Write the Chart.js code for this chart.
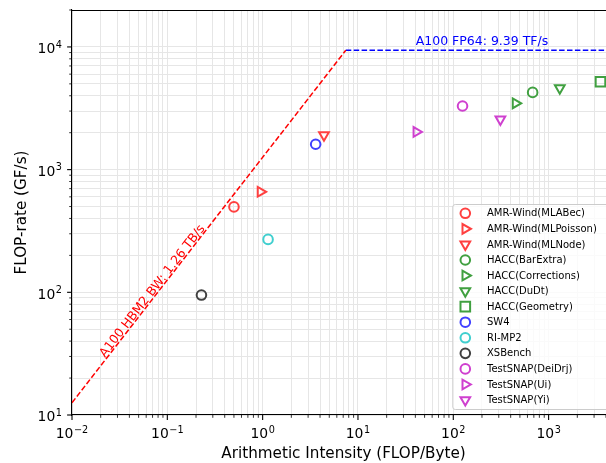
<!DOCTYPE html>
<html>
<head>
<meta charset="utf-8">
<script src="https://cdn.jsdelivr.net/npm/chart.js@4/dist/chart.umd.min.js"></script>
<style>
  html, body { margin: 0; padding: 0; background: #fff; overflow: hidden; }
  #wrap { position: relative; width: 606px; height: 463px; }
  #roofline { display: block; }
</style>
</head>
<body>
<div id="wrap"><canvas id="roofline"></canvas></div>
<script>
// Measured kernels on the A100 roofline
const apps = [
  'AMR-Wind(MLABec)', 'AMR-Wind(MLPoisson)', 'AMR-Wind(MLNode)',
  'HACC(BarExtra)', 'HACC(Corrections)', 'HACC(DuDt)', 'HACC(Geometry)',
  'SW4', 'RI-MP2', 'XSBench',
  'TestSNAP(DeiDrj)', 'TestSNAP(Ui)', 'TestSNAP(Yi)'
];
const intensity = [0.50, 0.95, 4.4, 680, 450, 1310, 3500, 3.6, 1.14, 0.228, 125, 41, 312];   // FLOP/Byte
const gflops    = [497, 660, 1910, 4260, 3470, 4620, 5200, 1610, 270, 95, 3300, 2030, 2570]; // GF/s

// Machine ceilings
const peakGflops = 9390;   // A100 FP64
const bandwidthGBs = 1260; // A100 HBM2
const xRange = [0.01, 4000];
const yRange = [10, 20000];

// Marker appearance for each kernel
const appColor = ['#ff4040', '#ff4040', '#ff4040', '#40a040', '#40a040', '#40a040', '#40a040',
                  '#4040ff', '#40cfcf', '#404040', '#cf40cf', '#cf40cf', '#cf40cf'];
const appMarker = ['o', '>', 'v', 'o', '>', 'v', 's', 'o', 'o', 'o', 'o', '>', 'v'];

const MARKERS = {
  'o': { pointStyle: 'circle',   rotation: 0,   radius: 4.8 },
  '>': { pointStyle: 'triangle', rotation: 90,  radius: 5.6 },
  'v': { pointStyle: 'triangle', rotation: 180, radius: 5.6 },
  's': { pointStyle: 'rect',     rotation: 0,   radius: 6.8 }
};

const FONT = '"DejaVu Sans", "Liberation Sans", sans-serif';
const ridge = peakGflops / bandwidthGBs;
// the axes frame continues a few pixels past the right edge of the page
const frameOverhang = 9;

function logTicks(min, max) {
  const out = [];
  for (let d = Math.floor(Math.log10(min)); d <= Math.ceil(Math.log10(max)); d++) {
    for (let m = 1; m <= 9; m++) {
      const v = m * Math.pow(10, d);
      if (v >= min * 0.9999 && v <= max * 1.0001) out.push({ value: v, major: m === 1 });
    }
  }
  return out;
}

const pointSets = apps.map((name, i) => {
  const mk = MARKERS[appMarker[i]];
  return {
    type: 'scatter',
    label: name,
    data: [{ x: intensity[i], y: gflops[i] }],
    pointStyle: mk.pointStyle,
    pointRotation: mk.rotation,
    pointRadius: mk.radius,
    pointHoverRadius: mk.radius,
    pointBorderWidth: 2,
    pointBorderColor: appColor[i],
    pointBackgroundColor: 'rgba(0,0,0,0)',
    showLine: false,
    order: 0
  };
});

const roofSets = [
  {
    type: 'line', label: 'bw',
    data: [{ x: xRange[0], y: bandwidthGBs * xRange[0] }, { x: ridge, y: peakGflops }],
    borderColor: '#ff0000', borderWidth: 1.5, borderDash: [5.5, 2.4],
    pointRadius: 0, fill: false, order: 1
  },
  {
    type: 'line', label: 'peak',
    data: [{ x: ridge, y: peakGflops }, { x: xRange[1], y: peakGflops }],
    borderColor: '#0000ff', borderWidth: 1.5, borderDash: [5.5, 2.4],
    pointRadius: 0, fill: false, order: 1
  }
];

function drawPow10(ctx, exp, x, baseline, align) {
  const base = '10';
  const sup = exp < 0 ? '\u2212' + (-exp) : String(exp);
  ctx.font = '13.9px ' + FONT;
  const wb = ctx.measureText(base).width;
  ctx.font = '9.7px ' + FONT;
  const ws = ctx.measureText(sup).width;
  const total = wb + 0.6 + ws;
  const x0 = align === 'center' ? x - total / 2 : x - total;
  ctx.textAlign = 'left';
  ctx.textBaseline = 'alphabetic';
  ctx.fillStyle = '#000';
  ctx.font = '13.9px ' + FONT;
  ctx.fillText(base, x0, baseline);
  ctx.font = '9.7px ' + FONT;
  ctx.fillText(sup, x0 + wb + 0.6, baseline - 5.6);
}

function drawMarker(ctx, shape, color, x, y) {
  const mk = MARKERS[shape];
  ctx.save();
  ctx.strokeStyle = color;
  ctx.fillStyle = 'rgba(0,0,0,0)';
  ctx.lineWidth = 2;
  Chart.helpers.drawPoint(ctx, {
    pointStyle: mk.pointStyle, rotation: mk.rotation, radius: mk.radius, borderWidth: 2
  }, x, y);
  ctx.restore();
}

const decorations = {
  id: 'decorations',
  afterDraw(chart) {
    const { ctx, chartArea: a, scales: { x, y } } = chart;
    const frameRight = a.right + frameOverhang;
    ctx.save();

    // top spine
    ctx.strokeStyle = '#000';
    ctx.lineWidth = 1.1;
    ctx.beginPath();
    ctx.moveTo(a.left, a.top + 0.5);
    ctx.lineTo(a.right, a.top + 0.5);
    ctx.stroke();

    // tick marks and power-of-ten labels
    x.ticks.forEach(t => {
      const px = x.getPixelForValue(t.value);
      ctx.lineWidth = t.major ? 1.1 : 0.8;
      ctx.beginPath();
      ctx.moveTo(px, a.bottom);
      ctx.lineTo(px, a.bottom + (t.major ? 4.9 : 2.8));
      ctx.stroke();
      if (t.major) drawPow10(ctx, Math.round(Math.log10(t.value)), px, a.bottom + 23.3, 'center');
    });
    y.ticks.forEach(t => {
      const py = y.getPixelForValue(t.value);
      ctx.lineWidth = t.major ? 1.1 : 0.8;
      ctx.beginPath();
      ctx.moveTo(a.left, py);
      ctx.lineTo(a.left - (t.major ? 4.9 : 2.8), py);
      ctx.stroke();
      if (t.major) drawPow10(ctx, Math.round(Math.log10(t.value)), a.left - 10, py + 6.2, 'right');
    });

    // axis titles
    ctx.fillStyle = '#000';
    ctx.font = '15.2px ' + FONT;
    ctx.textAlign = 'center';
    ctx.textBaseline = 'alphabetic';
    ctx.fillText('Arithmetic Intensity (FLOP/Byte)', (a.left + frameRight) / 2, 457.5);
    ctx.save();
    ctx.translate(25.5, (a.top + a.bottom) / 2);
    ctx.rotate(-Math.PI / 2);
    ctx.fillText('FLOP-rate (GF/s)', 0, 0);
    ctx.restore();

    // ceiling annotations
    ctx.font = '12.5px ' + FONT;
    ctx.fillStyle = '#0000ff';
    ctx.textAlign = 'center';
    ctx.fillText('A100 FP64: ' + (peakGflops / 1000).toFixed(2) + ' TF/s',
                 x.getPixelForValue(200), y.getPixelForValue(peakGflops) - 5);

    const x1 = x.getPixelForValue(0.01), y1 = y.getPixelForValue(bandwidthGBs * 0.01);
    const x2 = x.getPixelForValue(1), y2 = y.getPixelForValue(bandwidthGBs * 1);
    const ang = Math.atan2(y2 - y1, x2 - x1);
    ctx.save();
    ctx.translate(x.getPixelForValue(0.07), y.getPixelForValue(102));
    ctx.rotate(ang);
    ctx.fillStyle = '#ff0000';
    ctx.textBaseline = 'middle';
    ctx.fillText('A100 HBM2 BW: ' + (bandwidthGBs / 1000).toFixed(2) + ' TB/s', 0, 0);
    ctx.restore();

    // legend, lower right corner of the frame
    const lw = 157, lh = 205, r = 2.5;
    const lx = frameRight - 5.2 - lw, ly = a.bottom - 5.5 - lh;
    ctx.beginPath();
    ctx.moveTo(lx + r, ly);
    ctx.lineTo(lx + lw - r, ly);
    ctx.arcTo(lx + lw, ly, lx + lw, ly + r, r);
    ctx.lineTo(lx + lw, ly + lh - r);
    ctx.arcTo(lx + lw, ly + lh, lx + lw - r, ly + lh, r);
    ctx.lineTo(lx + r, ly + lh);
    ctx.arcTo(lx, ly + lh, lx, ly + lh - r, r);
    ctx.lineTo(lx, ly + r);
    ctx.arcTo(lx, ly, lx + r, ly, r);
    ctx.closePath();
    ctx.fillStyle = 'rgba(255,255,255,0.8)';
    ctx.fill();
    ctx.strokeStyle = '#cccccc';
    ctx.lineWidth = 1;
    ctx.stroke();

    ctx.font = '10px ' + FONT;
    ctx.textAlign = 'left';
    ctx.textBaseline = 'middle';
    apps.forEach((name, i) => {
      const cy = ly + 8.8 + i * 15.56;
      drawMarker(ctx, appMarker[i], appColor[i], lx + 12.5, cy);
      ctx.fillStyle = '#000';
      ctx.fillText(name, lx + 34.2, cy + 0.5);
    });

    ctx.restore();
  }
};

const gridColor = '#e6e6e6';

new Chart(document.getElementById('roofline'), {
  type: 'scatter',
  data: { datasets: [...roofSets, ...pointSets] },
  options: {
    responsive: true,
    maintainAspectRatio: false,
    animation: false,
    devicePixelRatio: 1,
    layout: { autoPadding: false, padding: { top: 10, left: 0, right: 0, bottom: 0 } },
    plugins: { legend: { display: false }, tooltip: { enabled: false } },
    scales: {
      x: {
        type: 'logarithmic',
        min: xRange[0], max: xRange[1],
        afterBuildTicks: s => { s.ticks = logTicks(xRange[0], xRange[1]); },
        afterFit: s => { s.height = 48; },
        ticks: { display: false, autoSkip: false },
        grid: { color: gridColor, lineWidth: 1, drawTicks: false, tickLength: 0 },
        border: { display: true, color: '#000', width: 1.1 }
      },
      y: {
        type: 'logarithmic',
        min: yRange[0], max: yRange[1],
        afterBuildTicks: s => { s.ticks = logTicks(yRange[0], yRange[1]); },
        afterFit: s => { s.width = 72; },
        ticks: { display: false, autoSkip: false },
        grid: { color: gridColor, lineWidth: 1, drawTicks: false, tickLength: 0 },
        border: { display: true, color: '#000', width: 1.1 }
      }
    }
  },
  plugins: [decorations]
});
</script>
</body>
</html>
